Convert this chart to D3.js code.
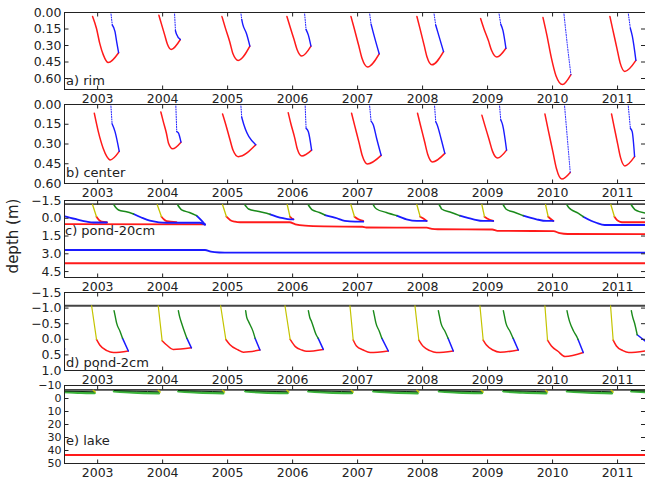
<!DOCTYPE html>
<html>
<head>
<meta charset="utf-8">
<script src="https://cdn.jsdelivr.net/npm/d3@7"></script>
<style>
  html, body { margin: 0; padding: 0; background: #fff; }
  svg { display: block; }
  text { font-family: "DejaVu Sans", sans-serif; }
</style>
</head>
<body>
<svg id="chart" width="645" height="483"></svg>
<script>
// ---- time axis ----
const yearTicks = [2003, 2004, 2005, 2006, 2007, 2008, 2009, 2010, 2011];
const timeRange = [2002.49, 2011.43];

// ---- depth tick values per panel ----
const rimTicks = [0, 0.15, 0.30, 0.45, 0.60];
const centerTicks = [0, 0.15, 0.30, 0.45, 0.60];
const pond20Ticks = [-1.5, 0, 1.5, 3.0, 4.5];
const pond2Ticks = [-1.5, -1.0, -0.5, 0, 0.5, 1.0];
const lakeTicks = [-10, 0, 10, 20, 30, 40, 50];

// ---- a) rim : [time, depth] ----
const rimRed = [
  [[2002.93,0.04],[2002.99,0.15],[2003.04,0.285],[2003.095,0.39],[2003.17,0.46],[2003.33,0.37]],
  [[2003.95,0.03],[2003.99,0.11],[2004.04,0.21],[2004.08,0.29],[2004.14,0.34],[2004.28,0.25]],
  [[2004.92,0.04],[2004.97,0.14],[2005.04,0.27],[2005.09,0.38],[2005.17,0.44],[2005.35,0.31]],
  [[2005.92,0.04],[2005.966,0.13],[2006.03,0.25],[2006.076,0.34],[2006.15,0.40],[2006.29,0.31]],
  [[2006.905,0.04],[2006.956,0.15],[2007.025,0.305],[2007.078,0.426],[2007.16,0.50],[2007.34,0.38]],
  [[2007.92,0.04],[2007.966,0.147],[2008.028,0.294],[2008.076,0.409],[2008.15,0.48],[2008.33,0.36]],
  [[2008.90,0.06],[2008.95,0.15],[2009.02,0.26],[2009.07,0.35],[2009.15,0.41],[2009.29,0.33]],
  [[2009.86,0.05],[2009.92,0.21],[2009.99,0.42],[2010.06,0.58],[2010.16,0.66],[2010.29,0.57]],
  [[2010.89,0.04],[2010.936,0.165],[2010.998,0.33],[2011.046,0.46],[2011.12,0.54],[2011.29,0.44]]
];
const rimBlueSparse = [
  [[2003.21,0],[2003.233,0.118]],
  [[2004.19,0],[2004.205,0.17]],
  [[2005.21,0],[2005.225,0.07]],
  [[2006.19,0],[2006.215,0.16]],
  [[2007.19,0],[2007.215,0.11]],
  [[2008.18,0],[2008.21,0.12]],
  [[2009.18,0],[2009.21,0.11]],
  [[2010.18,0],[2010.235,0.30],[2010.29,0.57]],
  [[2011.17,0],[2011.205,0.15]]
];
const rimBlue = [
  [[2003.233,0.118],[2003.275,0.179],[2003.30,0.27],[2003.33,0.37]],
  [[2004.205,0.17],[2004.22,0.20],[2004.28,0.25]],
  [[2005.225,0.07],[2005.24,0.11],[2005.30,0.20],[2005.35,0.31]],
  [[2006.215,0.16],[2006.25,0.21],[2006.29,0.31]],
  [[2007.215,0.11],[2007.25,0.19],[2007.34,0.38]],
  [[2008.21,0.12],[2008.245,0.19],[2008.33,0.36]],
  [[2009.21,0.11],[2009.245,0.17],[2009.29,0.33]],
  [[2011.205,0.15],[2011.235,0.22],[2011.29,0.44]]
];

// ---- b) center ----
const centerRed = [
  [[2002.956,0.07],[2003.018,0.21],[2003.095,0.34],[2003.15,0.40],[2003.20,0.425],[2003.34,0.36]],
  [[2003.98,0.06],[2004.016,0.13],[2004.065,0.22],[2004.10,0.30],[2004.16,0.34],[2004.29,0.29]],
  [[2004.93,0.076],[2004.98,0.157],[2005.04,0.264],[2005.09,0.35],[2005.17,0.40],[2005.44,0.31]],
  [[2005.94,0.066],[2005.98,0.148],[2006.04,0.257],[2006.08,0.342],[2006.15,0.395],[2006.30,0.35]],
  [[2006.915,0.07],[2006.964,0.166],[2007.03,0.293],[2007.08,0.393],[2007.16,0.455],[2007.37,0.39]],
  [[2007.93,0.07],[2007.976,0.163],[2008.038,0.285],[2008.086,0.381],[2008.16,0.44],[2008.35,0.375]],
  [[2008.92,0.085],[2008.968,0.166],[2009.033,0.273],[2009.083,0.358],[2009.16,0.41],[2009.30,0.35]],
  [[2009.89,0.076],[2009.942,0.20],[2010.012,0.362],[2010.067,0.49],[2010.15,0.57],[2010.28,0.52]],
  [[2010.915,0.076],[2010.956,0.175],[2011.01,0.305],[2011.054,0.407],[2011.12,0.47],[2011.27,0.40]]
];
const centerBlueSparse = [
  [[2003.21,0],[2003.23,0.15]],
  [[2004.21,0],[2004.225,0.21]],
  [[2005.21,0],[2005.225,0.10]],
  [[2006.20,0],[2006.215,0.185]],
  [[2007.19,0],[2007.215,0.13]],
  [[2008.19,0],[2008.21,0.135]],
  [[2009.19,0],[2009.21,0.12]],
  [[2010.19,0],[2010.235,0.26],[2010.28,0.52]],
  [[2011.17,0],[2011.205,0.185]]
];
const centerBlue = [
  [[2003.23,0.15],[2003.275,0.21],[2003.34,0.36]],
  [[2004.225,0.21],[2004.25,0.22],[2004.29,0.29]],
  [[2005.225,0.10],[2005.23,0.11],[2005.44,0.31]],
  [[2006.215,0.185],[2006.25,0.21],[2006.30,0.35]],
  [[2007.215,0.13],[2007.25,0.16],[2007.30,0.26],[2007.37,0.39]],
  [[2008.21,0.135],[2008.233,0.16],[2008.29,0.26],[2008.35,0.375]],
  [[2009.21,0.12],[2009.24,0.16],[2009.30,0.35]],
  [[2011.205,0.185],[2011.233,0.21],[2011.27,0.40]]
];

// ---- c) pond-20cm ----
const pond20Surface = -1.15;
const pond20Yellow = [
  [[2002.93,-1.1],[2002.99,-0.09]],
  [[2003.925,-1.1],[2003.99,-0.09]],
  [[2004.93,-1.1],[2004.99,-0.09]],
  [[2005.925,-1.1],[2005.967,-0.09]],
  [[2006.905,-1.1],[2006.96,-0.09]],
  [[2007.92,-1.1],[2007.97,-0.09]],
  [[2008.92,-1.1],[2008.96,-0.09]],
  [[2009.90,-1.1],[2009.94,-0.09]],
  [[2010.905,-1.1],[2010.96,-0.09]]
];
const pond20Red = [
  [[2002.49,0.53],[2004.66,0.55]],
  [[2002.99,-0.09],[2003.03,0.2],[2003.07,0.33],[2003.15,0.38]],
  [[2003.99,-0.09],[2004.03,0.15],[2004.07,0.28],[2004.22,0.36]],
  [[2004.99,-0.09],[2005.05,0.2],[2005.12,0.33],[2005.20,0.38],[2005.96,0.38],[2006.05,0.55],[2006.20,0.67],
   [2006.5,0.73],[2007.08,0.76],[2007.14,0.82],[2008.07,0.84],[2008.15,0.93],[2008.24,0.97],[2009.08,0.99],
   [2009.16,1.10],[2010.02,1.13],[2010.12,1.30],[2010.24,1.37],[2011.43,1.38]],
  [[2005.967,-0.09],[2006.0,0.08],[2006.02,0.13]],
  [[2006.96,-0.09],[2007.02,0.13],[2007.095,0.27]],
  [[2007.97,-0.09],[2008.02,0.06],[2008.07,0.27]],
  [[2008.96,-0.09],[2009.0,0.06],[2009.095,0.27]],
  [[2009.94,-0.09],[2009.97,0.06],[2010.02,0.27]],
  [[2010.96,-0.09],[2011.0,0.2],[2011.05,0.34],[2011.1,0.38],[2011.43,0.38]]
];
const pond20Green = [
  [[2003.26,-1.08],[2003.29,-0.85],[2003.33,-0.66],[2003.45,-0.5],[2003.56,-0.32]],
  [[2004.24,-1.08],[2004.27,-0.85],[2004.30,-0.66],[2004.42,-0.45],[2004.53,-0.18]],
  [[2005.275,-1.08],[2005.30,-0.9],[2005.33,-0.74],[2005.47,-0.55],[2005.61,-0.38],[2005.66,-0.29]],
  [[2006.25,-1.08],[2006.28,-0.85],[2006.31,-0.66],[2006.42,-0.45],[2006.505,-0.23]],
  [[2007.25,-1.08],[2007.27,-0.9],[2007.30,-0.74],[2007.45,-0.45],[2007.61,-0.18]],
  [[2008.265,-1.08],[2008.285,-0.9],[2008.30,-0.74],[2008.45,-0.45],[2008.58,-0.18]],
  [[2009.25,-1.08],[2009.27,-0.9],[2009.29,-0.74],[2009.43,-0.45],[2009.555,-0.18]],
  [[2010.23,-1.08],[2010.26,-0.85],[2010.30,-0.66],[2010.40,-0.4],[2010.48,-0.09]],
  [[2011.22,-1.08],[2011.25,-0.85],[2011.28,-0.66],[2011.43,-0.4]]
];
const pond20Blue = [
  [[2002.49,-0.15],[2002.59,0.0],[2002.685,0.13],[2002.84,0.33],[2002.94,0.40],[2003.15,0.40]],
  [[2003.56,-0.32],[2003.68,-0.02],[2003.81,0.25],[2003.95,0.38],[2004.07,0.42],[2004.58,0.42],[2004.66,0.58]],
  [[2004.53,-0.18],[2004.60,0.2],[2004.66,0.58]],
  [[2005.66,-0.29],[2005.76,-0.1],[2005.86,0.04],[2005.97,0.13],[2006.02,0.13]],
  [[2006.505,-0.23],[2006.69,0.04],[2006.81,0.27],[2006.97,0.33],[2007.095,0.33]],
  [[2007.61,-0.18],[2007.76,0.13],[2007.92,0.27],[2008.07,0.27]],
  [[2008.58,-0.18],[2008.79,0.13],[2008.94,0.27],[2009.095,0.27]],
  [[2009.555,-0.18],[2009.76,0.13],[2009.915,0.27],[2010.02,0.27]],
  [[2010.48,-0.09],[2010.60,0.25],[2010.68,0.42],[2010.81,0.61],[2011.43,0.61]]
];
const pond20BlueDeep = [[2002.49,2.72],[2004.66,2.72],[2004.75,2.86],[2004.88,2.93],[2005.05,2.95],[2011.43,2.95]];
const pond20RedDeep = [[2002.49,3.84],[2011.43,3.84]];

// ---- d) pond-2cm ----
const pond2Surface = -1.06;
const pond2Yellow = [
  [[2002.915,-1.06],[2002.99,0.02]],
  [[2003.94,-1.06],[2004.0,0.06]],
  [[2004.90,-1.06],[2004.98,0.02]],
  [[2005.89,-1.06],[2005.97,0.02]],
  [[2006.89,-1.06],[2006.94,0.04]],
  [[2007.89,-1.06],[2007.95,0.04]],
  [[2008.89,-1.06],[2008.94,0.04]],
  [[2009.89,-1.06],[2009.93,0.04]],
  [[2010.90,-1.06],[2010.94,0.04]]
];
const pond2Red = [
  [[2002.99,0.02],[2003.04,0.2],[2003.15,0.38],[2003.25,0.44],[2003.48,0.39]],
  [[2004.0,0.06],[2004.07,0.2],[2004.17,0.34],[2004.45,0.29]],
  [[2004.98,0.02],[2005.04,0.18],[2005.17,0.36],[2005.25,0.43],[2005.505,0.36]],
  [[2005.97,0.02],[2006.05,0.25],[2006.15,0.36],[2006.22,0.40],[2006.48,0.34]],
  [[2006.94,0.04],[2006.99,0.23],[2007.095,0.36],[2007.20,0.44],[2007.48,0.39]],
  [[2007.95,0.04],[2008.02,0.25],[2008.12,0.38],[2008.22,0.44],[2008.48,0.39]],
  [[2008.94,0.04],[2008.99,0.2],[2009.09,0.36],[2009.20,0.43],[2009.48,0.36]],
  [[2009.93,0.04],[2009.99,0.23],[2010.09,0.40],[2010.20,0.57],[2010.48,0.44]],
  [[2010.94,0.04],[2010.99,0.23],[2011.09,0.38],[2011.18,0.44],[2011.43,0.39]]
];
const pond2Green = [
  [[2003.26,-0.90],[2003.28,-0.70],[2003.30,-0.50],[2003.35,-0.25],[2003.39,-0.02]],
  [[2004.25,-0.90],[2004.27,-0.70],[2004.30,-0.50],[2004.34,-0.25],[2004.38,-0.02]],
  [[2005.285,-0.90],[2005.30,-0.70],[2005.33,-0.55],[2005.40,-0.23],[2005.43,-0.02]],
  [[2006.25,-0.90],[2006.27,-0.70],[2006.30,-0.55],[2006.37,-0.13],[2006.40,-0.02]],
  [[2007.25,-0.90],[2007.27,-0.70],[2007.29,-0.50],[2007.34,-0.25],[2007.38,-0.02]],
  [[2008.25,-0.90],[2008.27,-0.70],[2008.29,-0.50],[2008.35,-0.25],[2008.40,-0.02]],
  [[2009.25,-0.90],[2009.27,-0.70],[2009.29,-0.50],[2009.35,-0.25],[2009.40,-0.02]],
  [[2010.23,-0.90],[2010.25,-0.70],[2010.27,-0.55],[2010.33,-0.25],[2010.38,-0.07],[2010.40,0.02]],
  [[2011.22,-0.90],[2011.24,-0.70],[2011.27,-0.50],[2011.31,-0.13]]
];
const pond2Blue = [
  [[2002.49,0.28],[2002.50,0.33]],
  [[2003.39,-0.02],[2003.48,0.39]],
  [[2004.38,-0.02],[2004.45,0.29]],
  [[2005.43,-0.02],[2005.505,0.36]],
  [[2006.40,-0.02],[2006.48,0.34]],
  [[2007.38,-0.02],[2007.48,0.39]],
  [[2008.40,-0.02],[2008.48,0.39]],
  [[2009.40,-0.02],[2009.48,0.36]],
  [[2010.40,0.02],[2010.48,0.44]],
  [[2011.31,-0.13],[2011.43,0.07]]
];

// ---- e) lake ----
const lakeSurface = -6.2;
const lakeYellow = [
  [[2002.94,-6.0],[2002.97,-4.6]],
  [[2003.94,-6.0],[2003.97,-4.6]],
  [[2004.93,-6.0],[2004.96,-4.6]],
  [[2005.92,-6.0],[2005.95,-4.6]],
  [[2006.91,-6.0],[2006.94,-4.6]],
  [[2007.92,-6.0],[2007.95,-4.6]],
  [[2008.91,-6.0],[2008.94,-4.6]],
  [[2009.90,-6.0],[2009.93,-4.6]],
  [[2010.91,-6.0],[2010.94,-4.6]]
];
const lakeGreen = [
  [[2002.49,-4.6],[2002.75,-4.0],[2002.96,-3.8]],
  [[2003.26,-5.2],[2003.55,-4.2],[2003.95,-3.7]],
  [[2004.25,-5.2],[2004.55,-4.2],[2004.94,-3.7]],
  [[2005.28,-5.2],[2005.55,-4.3],[2005.93,-3.8]],
  [[2006.25,-5.2],[2006.55,-4.2],[2006.92,-3.8]],
  [[2007.25,-5.2],[2007.55,-4.2],[2007.93,-3.7]],
  [[2008.26,-5.2],[2008.55,-4.3],[2008.92,-3.8]],
  [[2009.25,-5.2],[2009.55,-4.2],[2009.91,-3.7]],
  [[2010.23,-5.2],[2010.55,-4.2],[2010.92,-3.7]],
  [[2011.22,-5.2],[2011.43,-4.6]]
];
const lakeIce = [
  [[2002.49,-5.3],[2002.96,-4.8]],
  [[2003.26,-5.8],[2003.60,-5.2],[2003.95,-4.8]],
  [[2004.25,-5.8],[2004.60,-5.2],[2004.94,-4.8]],
  [[2005.28,-5.8],[2005.60,-5.2],[2005.93,-4.8]],
  [[2006.25,-5.8],[2006.60,-5.2],[2006.92,-4.8]],
  [[2007.25,-5.8],[2007.60,-5.2],[2007.93,-4.8]],
  [[2008.26,-5.8],[2008.60,-5.2],[2008.92,-4.8]],
  [[2009.25,-5.8],[2009.60,-5.2],[2009.91,-4.8]],
  [[2010.23,-5.8],[2010.60,-5.2],[2010.92,-4.8]],
  [[2011.22,-5.8],[2011.43,-5.4]]
];
const lakeRed = [[2002.49,43.8],[2011.43,43.8]];

// ---- colours ----
const RED = "#ff1a1a", BLUE = "#1a1aff", GREEN = "#1a8a1a", YELLOW = "#c4c400", ICE = "#0d2a10";

const svg = d3.select("#chart");
const W = 645;
const x = d3.scaleLinear().domain(timeRange).range([64, 645]);

const panels = [
  { id: "rim", top: 12, bottom: 89, domain: [0, 0.7], ticks: rimTicks, fmt: d3.format(".2f"),
    label: "a) rim", lx: 66, ly: 80, tickFont: 12.5,
    series: [
      { lines: rimRed, color: RED, width: 1.5 },
      { lines: rimBlueSparse, color: BLUE, width: 1, dash: "1,1.5" },
      { lines: rimBlue, color: BLUE, width: 1.4 }
    ] },
  { id: "center", top: 104, bottom: 183, domain: [0, 0.6], ticks: centerTicks, fmt: d3.format(".2f"),
    label: "b) center", lx: 66, ly: 172, tickFont: 12.5,
    series: [
      { lines: centerRed, color: RED, width: 1.5 },
      { lines: centerBlueSparse, color: BLUE, width: 1, dash: "1,1.5" },
      { lines: centerBlue, color: BLUE, width: 1.4 }
    ] },
  { id: "pond20", top: 200, bottom: 277, domain: [-1.5, 5.0], ticks: pond20Ticks, fmt: d3.format(".1f"),
    label: "c) pond-20cm", lx: 65, ly: 230, surface: pond20Surface, tickFont: 12.5,
    series: [
      { lines: [pond20RedDeep], color: RED, width: 1.8, linear: true },
      { lines: [pond20BlueDeep], color: BLUE, width: 1.8 },
      { lines: pond20Red, color: RED, width: 1.8 },
      { lines: pond20Blue, color: BLUE, width: 1.8 },
      { lines: pond20Green, color: GREEN, width: 1.5 },
      { lines: pond20Yellow, color: YELLOW, width: 1.3, linear: true }
    ] },
  { id: "pond2", top: 292, bottom: 370, domain: [-1.5, 1.0], ticks: pond2Ticks, fmt: d3.format(".1f"),
    label: "d) pond-2cm", lx: 66, ly: 362, surface: pond2Surface, tickFont: 12.5,
    series: [
      { lines: pond2Red, color: RED, width: 1.5 },
      { lines: pond2Blue, color: BLUE, width: 1.5, linear: true },
      { lines: pond2Green, color: GREEN, width: 1.4 },
      { lines: pond2Yellow, color: YELLOW, width: 1.2, linear: true }
    ] },
  { id: "lake", top: 385, bottom: 463, domain: [-10, 50], ticks: lakeTicks, fmt: d3.format("d"),
    label: "e) lake", lx: 66, ly: 440, surface: lakeSurface, tickFont: 11,
    series: [
      { lines: [lakeRed], color: RED, width: 2, linear: true },
      { lines: lakeGreen, color: "#3cb43c", width: 2.6 },
      { lines: lakeIce, color: ICE, width: 1 },
      { lines: lakeYellow, color: YELLOW, width: 1.5, linear: true }
    ] }
];

const defs = svg.append("defs");

panels.forEach(p => {
  const y = d3.scaleLinear().domain(p.domain).range([p.top, p.bottom]);
  const g = svg.append("g").attr("class", "panel-" + p.id);

  defs.append("clipPath").attr("id", "clip-" + p.id)
    .append("rect").attr("x", 64).attr("y", p.top).attr("width", W - 64 + 1).attr("height", p.bottom - p.top);

  const plot = g.append("g").attr("clip-path", "url(#clip-" + p.id + ")");

  if (p.surface !== undefined) {
    plot.append("line")
      .attr("x1", x(timeRange[0])).attr("x2", x(timeRange[1]))
      .attr("y1", y(p.surface)).attr("y2", y(p.surface))
      .attr("stroke", "#444").attr("stroke-width", 1.8);
  }

  p.series.forEach(s => {
    const line = d3.line().x(d => x(d[0])).y(d => y(d[1]))
      .curve(s.linear ? d3.curveLinear : d3.curveMonotoneX);
    plot.append("g").selectAll("path").data(s.lines).join("path")
      .attr("d", line)
      .attr("fill", "none")
      .attr("stroke", s.color)
      .attr("stroke-width", s.width)
      .attr("stroke-linejoin", "round")
      .attr("stroke-linecap", "round")
      .attr("stroke-dasharray", s.dash || null);
  });

  // frame
  g.append("rect")
    .attr("x", 64.5).attr("y", p.top + 0.5)
    .attr("width", W + 2 - 64.5).attr("height", p.bottom - p.top)
    .attr("fill", "none").attr("stroke", "#222").attr("stroke-width", 1);

  const styleAxis = size => sel => {
    sel.select(".domain").remove();
    sel.selectAll(".tick line").attr("stroke", "#222");
    sel.selectAll(".tick text").attr("fill", "#222").style("font-size", size + "px")
      .style("font-family", "'DejaVu Sans', sans-serif");
  };

  g.append("g").attr("transform", `translate(64.5,0)`)
    .call(d3.axisLeft(y).tickValues(p.ticks).tickFormat(p.fmt).tickSize(-4).tickPadding(3))
    .call(styleAxis(p.tickFont));

  g.append("g").attr("transform", `translate(645,0)`)
    .call(d3.axisRight(y).tickValues(p.ticks).tickFormat("").tickSize(-4))
    .call(styleAxis(12.5));

  g.append("g").attr("transform", `translate(0,${p.bottom + 0.5})`)
    .call(d3.axisBottom(x).tickValues(yearTicks).tickFormat(d3.format("d")).tickSize(-4).tickPadding(5))
    .call(styleAxis(12.5));

  g.append("g").attr("transform", `translate(0,${p.top + 0.5})`)
    .call(d3.axisTop(x).tickValues(yearTicks).tickFormat("").tickSize(-4))
    .call(styleAxis(12.5));

  g.append("text")
    .attr("x", p.lx).attr("y", p.ly)
    .attr("dy", "0.35em")
    .attr("fill", "#222")
    .style("font-size", "13px")
    .text(p.label);
});

svg.append("text")
  .attr("transform", "translate(13,236) rotate(-90)")
  .attr("text-anchor", "middle")
  .attr("dy", "0.35em")
  .attr("fill", "#222")
  .style("font-size", "15px")
  .text("depth (m)");
</script>
</body>
</html>
